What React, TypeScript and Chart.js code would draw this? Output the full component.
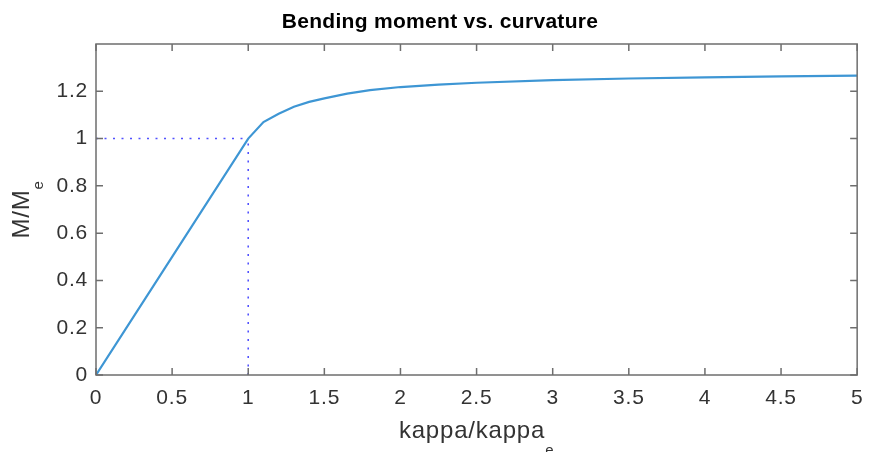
import React, { useEffect, useRef } from "react";
import { Chart, registerables } from "chart.js";

Chart.register(...registerables);

const kappa = [0, 0.5, 1, 1.1, 1.2, 1.3, 1.4, 1.5, 1.65, 1.8, 2, 2.25, 2.5, 3, 3.5, 4, 4.5, 5];
const moment = [0, 0.5, 1, 1.07, 1.105, 1.135, 1.155, 1.17, 1.19, 1.205, 1.218, 1.228, 1.236, 1.247, 1.254, 1.259, 1.263, 1.266];
const refX = [0, 1];
const refY = [1, 1];
const refVX = [1, 1];
const refVY = [0, 1];
const xTicks = [0, 0.5, 1, 1.5, 2, 2.5, 3, 3.5, 4, 4.5, 5];
const yTicks = [0, 0.2, 0.4, 0.6, 0.8, 1, 1.2];
const title = "Bending moment vs. curvature";
const xLabel = "kappa/kappa";
const xSub = "e";
const yLabel = "M/M";
const ySub = "e";

const FONT = "'Liberation Sans', Arial, Helvetica, sans-serif";
const TEXT = "#333";

const decor = {
  id: "decor",
  beforeDraw(chart: any) {
    const ctx = chart.ctx;
    ctx.save();
    ctx.fillStyle = "#fff";
    ctx.fillRect(0, 0, chart.width, chart.height);
    ctx.restore();
    ctx.letterSpacing = "0.8px";
  },
  afterDraw(chart: any) {
    const ctx = chart.ctx;
    const a = chart.chartArea;
    const xs = chart.scales.x;
    const ys = chart.scales.y;
    ctx.save();
    ctx.strokeStyle = "#6e6e6e";
    ctx.lineWidth = 1.5;
    ctx.strokeRect(a.left, a.top, a.right - a.left, a.bottom - a.top);
    const tl = 7;
    ctx.beginPath();
    xTicks.forEach((v) => {
      const p = xs.getPixelForValue(v);
      ctx.moveTo(p, a.bottom);
      ctx.lineTo(p, a.bottom - tl);
      ctx.moveTo(p, a.top);
      ctx.lineTo(p, a.top + tl);
    });
    yTicks.forEach((v) => {
      const p = ys.getPixelForValue(v);
      ctx.moveTo(a.left, p);
      ctx.lineTo(a.left + tl, p);
      ctx.moveTo(a.right, p);
      ctx.lineTo(a.right - tl, p);
    });
    ctx.stroke();

    // title
    ctx.letterSpacing = "0.3px";
    ctx.fillStyle = "#000";
    ctx.font = `bold 21px ${FONT}`;
    ctx.textAlign = "center";
    ctx.textBaseline = "alphabetic";
    ctx.fillText(title, 440, 28);

    // x label
    ctx.letterSpacing = "0.8px";
    ctx.fillStyle = TEXT;
    ctx.font = `24px ${FONT}`;
    ctx.textAlign = "left";
    const xw = ctx.measureText(xLabel).width;
    ctx.font = `15px ${FONT}`;
    const sw = ctx.measureText(xSub).width;
    const xStart = (a.left + a.right) / 2 - (xw + sw) / 2;
    ctx.font = `24px ${FONT}`;
    ctx.fillText(xLabel, xStart, 438);
    ctx.font = `15px ${FONT}`;
    ctx.fillText(xSub, xStart + xw, 455);

    // y label
    ctx.save();
    ctx.font = `24px ${FONT}`;
    const yw = ctx.measureText(yLabel).width;
    ctx.font = `15px ${FONT}`;
    const ysw = ctx.measureText(ySub).width;
    const cy = (a.top + a.bottom) / 2;
    ctx.translate(29, cy + (yw + ysw) / 2);
    ctx.rotate(-Math.PI / 2);
    ctx.font = `24px ${FONT}`;
    ctx.fillText(yLabel, 0, 0);
    ctx.font = `15px ${FONT}`;
    ctx.fillText(ySub, yw, 14);
    ctx.restore();

    ctx.restore();
  },
};

export default function App() {
  const ref = useRef<HTMLCanvasElement>(null);
  useEffect(() => {
    if (!ref.current) return;
    const chart = new Chart(ref.current, {
      type: "scatter",
      data: {
        datasets: [
          {
            data: kappa.map((x, i) => ({ x, y: moment[i] })),
            showLine: true,
            borderColor: "rgb(62,150,212)",
            borderWidth: 2.2,
            pointRadius: 0,
            tension: 0,
          },
          {
            data: refX.map((x, i) => ({ x, y: refY[i] })),
            showLine: true,
            borderColor: "rgba(50,50,255,0.85)",
            borderWidth: 1.6,
            borderDash: [2, 6.5],
            pointRadius: 0,
          },
          {
            data: refVX.map((x, i) => ({ x, y: refVY[i] })),
            showLine: true,
            borderColor: "rgba(50,50,255,0.85)",
            borderWidth: 1.6,
            borderDash: [2, 6.5],
            pointRadius: 0,
          },
        ],
      },
      options: {
        animation: false,
        responsive: true,
        maintainAspectRatio: false,
        layout: { padding: { top: 44, right: 9, left: 0, bottom: 0 } },
        plugins: { legend: { display: false }, tooltip: { enabled: false }, title: { display: false } },
        scales: {
          x: {
            type: "linear",
            min: 0,
            max: 5,
            afterBuildTicks: (s: any) => {
              s.ticks = xTicks.map((v) => ({ value: v }));
            },
            afterFit: (s: any) => {
              s.height = 77;
            },
            grid: { display: false, drawTicks: false },
            border: { display: false },
            ticks: {
              color: TEXT,
              font: { family: FONT, size: 21 },
              padding: 11,
              maxRotation: 0,
              autoSkip: false,
              callback: (v: any) => String(Number(Number(v).toFixed(1))),
            },
          },
          y: {
            type: "linear",
            min: 0,
            max: 1.4,
            afterBuildTicks: (s: any) => {
              s.ticks = yTicks.map((v) => ({ value: v }));
            },
            afterFit: (s: any) => {
              s.width = 96;
            },
            grid: { display: false, drawTicks: false },
            border: { display: false },
            ticks: {
              color: TEXT,
              font: { family: FONT, size: 21 },
              padding: 8,
              autoSkip: false,
              callback: (v: any) => String(Number(Number(v).toFixed(1))),
            },
          },
        },
      },
      plugins: [decor],
    });
    return () => chart.destroy();
  }, []);
  return (
    <div style={{ position: "absolute", left: 0, top: 0, width: 874, height: 452 }}>
      <canvas ref={ref} />
    </div>
  );
}
